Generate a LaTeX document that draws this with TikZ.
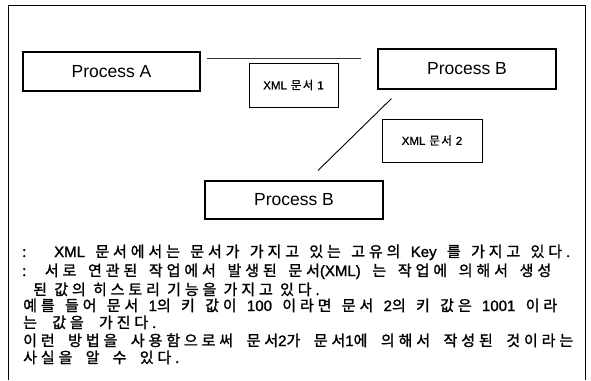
\documentclass[tikz,border=0pt]{standalone}
\usepackage{fontspec}
\setmainfont{Liberation Sans}
\newfontfamily\kr[LetterSpace=26,FakeBold=1.5]{Noto Sans CJK KR}
\newfontfamily\krbox[LetterSpace=12,FakeBold=1]{Noto Sans CJK KR}
\newfontfamily\lat[FakeBold=1.5]{Liberation Sans}
\newfontfamily\latbox[FakeBold=1]{Liberation Sans}
\usetikzlibrary{calc}
\begin{document}
\begin{tikzpicture}[x=1pt,y=-1pt,
 proc/.style={draw, line width=1.1pt, inner sep=0pt, font=\fontsize{17.5}{20}\selectfont},
 doc/.style={draw, line width=0.9pt, inner sep=0pt, font=\krbox\fontsize{11.5}{13}\selectfont},
 txt/.style={anchor=base west, inner sep=0pt, font=\kr\fontsize{15}{17}\selectfont},
 link/.style={draw, line width=0.9pt}]
\useasboundingbox (0,0) rectangle (591,380);
\draw[line width=1pt] (8,380) -- (8,5) -- (585,5) -- (585,380);
\node[proc, minimum width=177pt, minimum height=39pt] (A) at (111.5,71.5) {Process A};
\node[proc, minimum width=178pt, minimum height=40pt] (B1) at (467,69) {Process B};
\node[proc, minimum width=178pt, minimum height=38pt] (B2) at (294,200) {Process B};
\node[doc, minimum width=89pt, minimum height=44pt] (D1) at (293.5,85) {{\latbox XML} 문서 {\latbox 1}};
\node[doc, minimum width=100pt, minimum height=43pt] (D2) at (432,140.5) {{\latbox XML} 문서 {\latbox 2}};
\coordinate (a1) at ($(A.north east)+(6,7)$);
\coordinate (b1) at ($(B1.north west)+(-16,10)$);
\coordinate (b2) at ($(B1.south west)+(14,9)$);
\coordinate (c1) at ($(B2.north)+(24,-10)$);
\draw[link, black!80] (a1) -- (b1);
\draw[link] (b2) -- (c1);
\node[txt] (t1) at (22,257) {\makebox[548pt][s]{:\hspace{12pt} {\lat XML} 문서에서는 문서가 가지고 있는 고유의 {\lat Key} 를 가지고 있다.}};
\node[txt] (t2) at (22,276) {\makebox[529pt][s]{: 서로 연관된 작업에서 발생된 문서{\lat (XML)} 는 작업에 의해서 생성}};
\node[txt] (t3) at (33,295) {된 값의 히스토리 기능을 가지고 있다.};
\node[txt] (t4) at (23,311) {\makebox[534pt][s]{예를 들어 문서 {\lat 1}의 키 값이 {\lat 100} 이라면 문서 {\lat 2}의 키 값은 {\lat 1001} 이라}};
\node[txt] (t5) at (23,328) {는\hspace{8pt} 값을\hspace{8pt} 가진다.};
\node[txt] (t6) at (23,346) {\makebox[550pt][s]{이런 방법을 사용함으로써 문서{\lat 2}가 문서{\lat 1}에 의해서 작성된 것이라는}};
\node[txt] (t7) at (23,363) {사실을\hspace{6pt} 알\hspace{6pt} 수\hspace{6pt} 있다.};
\end{tikzpicture}
\end{document}
